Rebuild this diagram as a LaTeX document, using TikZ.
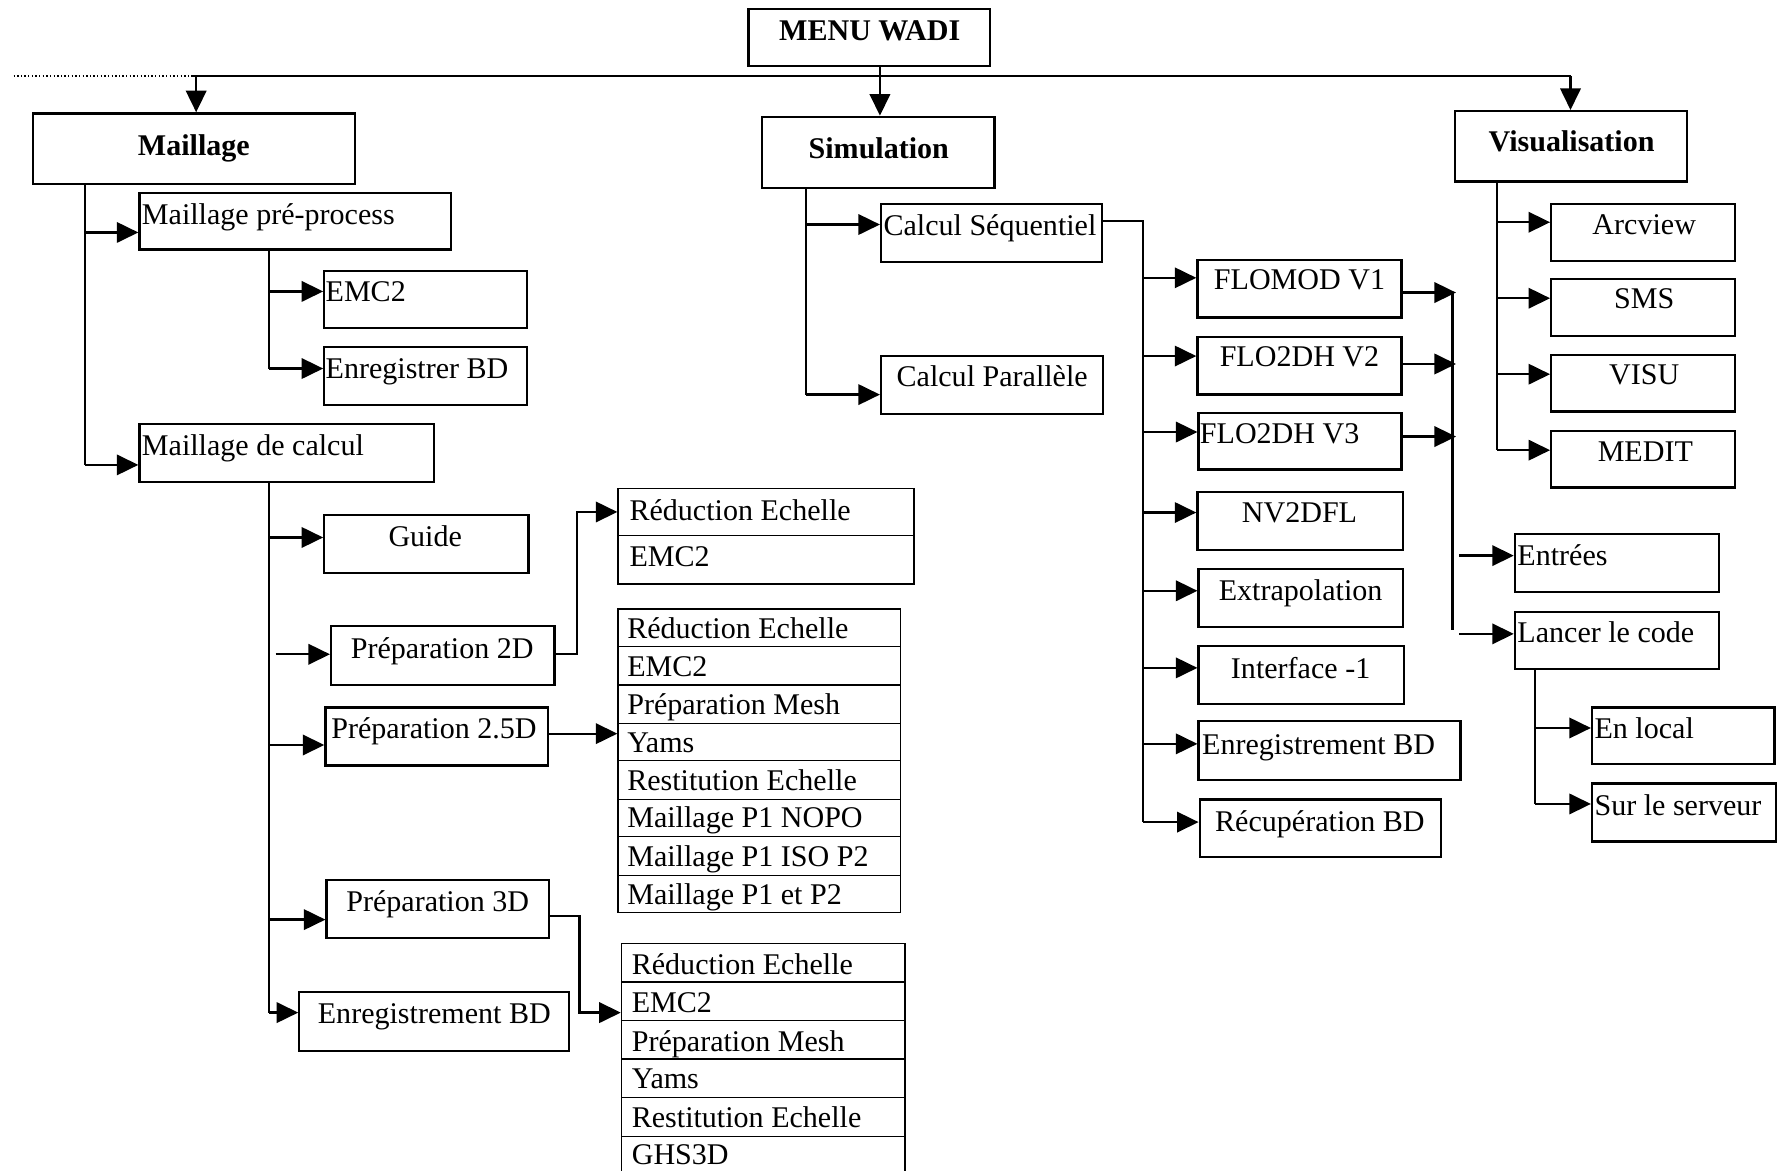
\documentclass[tikz,border=0pt]{standalone}
\usepackage{fontspec}
\setmainfont{Liberation Serif}
\usetikzlibrary{arrows.meta,fit}
\tikzset{
  bx/.style={draw, line width=2pt, inner sep=0pt, fit={#1}},
  cell/.style={draw, line width=1.1pt, inner sep=0pt, fit={#1}},
  tx/.style={font=\fontsize{26.5}{30}\selectfont, inner sep=0pt},
  bt/.style={font=\fontsize{26.5}{30}\selectfont\bfseries, inner sep=0pt},
  ln/.style={line width=2pt},
  arr/.style={line width=2pt, -{Triangle[length=19pt,width=18pt]}},
}
\newcommand\harr[3]{\coordinate (#1) at #2; \draw[arr] (#1) -- (#1 -| #3.west);}
\begin{document}
\begin{tikzpicture}[x=1pt,y=-1pt]
\useasboundingbox (0,0) rectangle (1568,1032);
% boxes
\node[bx={(660,8) (873,58)}] (menu) {};
\node[bx={(29,100) (313,162)}] (mail) {};
\node[bx={(672,103) (877,166)}] (sim) {};
\node[bx={(1283,98) (1488,160)}] (vis) {};
\node[bx={(123,170) (398,220)}] (mpp) {};
\node[bx={(286,239) (465,289)}] (memc) {};
\node[bx={(286,306) (465,357)}] (menr) {};
\node[bx={(123,374) (383,425)}] (mdc) {};
\node[bx={(286,454) (466,505)}] (guide) {};
\node[bx={(292,552) (489,604)}] (p2d) {};
\node[bx={(287,624) (483,675)}] (p25) {};
\node[bx={(288,776) (484,827)}] (p3d) {};
\node[bx={(264,875) (502,927)}] (penr) {};
\node[bx={(777,180) (972,231)}] (cseq) {};
\node[bx={(777,314) (973,365)}] (cpar) {};
\node[bx={(1056,229) (1236,280)}] (flo1) {};
\node[bx={(1056,297) (1236,348)}] (flo2) {};
\node[bx={(1057,364) (1236,414)}] (flo3) {};
\node[bx={(1056,434) (1237,485)}] (nv) {};
\node[bx={(1057,502) (1237,553)}] (extr) {};
\node[bx={(1057,570) (1238,621)}] (intf) {};
\node[bx={(1057,636) (1288,688)}] (senr) {};
\node[bx={(1058,705) (1271,756)}] (recup) {};
\node[bx={(1336,471) (1516,522)}] (entr) {};
\node[bx={(1336,540) (1516,590)}] (lanc) {};
\node[bx={(1404,624) (1565,674)}] (loc) {};
\node[bx={(1404,691) (1566,742)}] (serv) {};
\node[bx={(1368,180) (1530,230)}] (arc) {};
\node[bx={(1368,246) (1530,296)}] (sms) {};
\node[bx={(1368,313) (1530,363)}] (visu) {};
\node[bx={(1368,380) (1530,430)}] (medit) {};
% texts
\node[bt,anchor=base] (tmenu) at (767,36) {MENU WADI};
\node[bt,anchor=base] (tmail) at (171,137) {Maillage};
\node[bt,anchor=base] (tsim) at (775,140) {Simulation};
\node[bt,anchor=base] (tvis) at (1386,134) {Visualisation};
\node[tx,anchor=base west] (tmpp) at (125,198) {Maillage pré-process};
\node[tx,anchor=base west] (tmemc) at (287,266) {EMC2};
\node[tx,anchor=base west] (tmenr) at (287,334) {Enregistrer BD};
\node[tx,anchor=base west] (tmdc) at (125,402) {Maillage de calcul};
\node[tx,anchor=base] (tguide) at (375,482) {Guide};
\node[tx,anchor=base] (tp2d) at (390,581) {Préparation 2D};
\node[tx,anchor=base west] (tp25) at (292,651) {Préparation 2.5D};
\node[tx,anchor=base] (tp3d) at (386,804) {Préparation 3D};
\node[tx,anchor=base] (tpenr) at (383,903) {Enregistrement BD};
\node[tx,anchor=base west] (tcseq) at (779,208) {Calcul Séquentiel};
\node[tx,anchor=base] (tcpar) at (875,341) {Calcul Parallèle};
\node[tx,anchor=base] (tflo1) at (1146,255) {FLOMOD V1};
\node[tx,anchor=base] (tflo2) at (1146,323) {FLO2DH V2};
\node[tx,anchor=base west] (tflo3) at (1058,391) {FLO2DH V3};
\node[tx,anchor=base] (tnv) at (1146,461) {NV2DFL};
\node[tx,anchor=base] (textr) at (1147,530) {Extrapolation};
\node[tx,anchor=base] (tintf) at (1147,598) {Interface -1};
\node[tx,anchor=base west] (tsenr) at (1060,665) {Enregistrement BD};
\node[tx,anchor=base] (trecup) at (1164,733) {Récupération BD};
\node[tx,anchor=base west] (tentr) at (1338,499) {Entrées};
\node[tx,anchor=base west] (tlanc) at (1338,567) {Lancer le code};
\node[tx,anchor=base west] (tloc) at (1406,651) {En local};
\node[tx,anchor=base west] (tserv) at (1406,719) {Sur le serveur};
\node[tx,anchor=base] (tarc) at (1450,207) {Arcview};
\node[tx,anchor=base] (tsms) at (1450,272) {SMS};
\node[tx,anchor=base] (tvisu) at (1450,339) {VISU};
\node[tx,anchor=base] (tmedit) at (1451,407) {MEDIT};
% list 1
\node[cell={(545,431) (806,472)}] (L1a) {};
\node[cell={(545,472) (806,515)}] (L1b) {};
\node[tx,anchor=base west] (t1a) at (555,459) {Réduction Echelle};
\node[tx,anchor=base west] (t1b) at (555,500) {EMC2};
% list 2
\node[cell={(545,537) (794,570)}] (L2a) {};
\node[cell={(545,570) (794,604)}] (L2b) {};
\node[cell={(545,604) (794,638)}] (L2c) {};
\node[cell={(545,638) (794,671)}] (L2d) {};
\node[cell={(545,671) (794,705)}] (L2e) {};
\node[cell={(545,705) (794,738)}] (L2f) {};
\node[cell={(545,738) (794,772)}] (L2g) {};
\node[cell={(545,772) (794,805)}] (L2h) {};
\node[tx,anchor=base west] (t2a) at (553,563) {Réduction Echelle};
\node[tx,anchor=base west] (t2b) at (553,597) {EMC2};
\node[tx,anchor=base west] (t2c) at (553,630) {Préparation Mesh};
\node[tx,anchor=base west] (t2d) at (553,664) {Yams};
\node[tx,anchor=base west] (t2e) at (553,697) {Restitution Echelle};
\node[tx,anchor=base west] (t2f) at (553,730) {Maillage P1 NOPO};
\node[tx,anchor=base west] (t2g) at (553,764) {Maillage P1 ISO P2};
\node[tx,anchor=base west] (t2h) at (553,798) {Maillage P1 et P2};
% list 3
\node[cell={(548,832) (798,866)}] (L3a) {};
\node[cell={(548,866) (798,900)}] (L3b) {};
\node[cell={(548,900) (798,934)}] (L3c) {};
\node[cell={(548,934) (798,968)}] (L3d) {};
\node[cell={(548,968) (798,1002)}] (L3e) {};
\node[cell={(548,1002) (798,1045)}] (L3f) {};
\node[tx,anchor=base west] (t3a) at (557,859) {Réduction Echelle};
\node[tx,anchor=base west] (t3b) at (557,893) {EMC2};
\node[tx,anchor=base west] (t3c) at (557,927) {Préparation Mesh};
\node[tx,anchor=base west] (t3d) at (557,960) {Yams};
\node[tx,anchor=base west] (t3e) at (557,994) {Restitution Echelle};
\node[tx,anchor=base west] (t3f) at (557,1027) {GHS3D};
% top connectors
\coordinate (h0) at (12,67);
\coordinate (h1) at (170,67);
\coordinate (h2) at (1385,67);
\coordinate (hm) at (173,67);
\coordinate (hs) at (776,58);
\draw[dotted, line width=1.2pt] (h0) -- (h1);
\draw[ln] (h1) -- (h2);
\draw[arr] (hm) -- (hm |- mail.north);
\draw[arr] (hs) -- (hs |- sim.north);
\draw[arr] (h2) -- (h2 |- vis.north);
% Maillage subtree
\harr{c1}{(75,205)}{mpp}
\harr{c2}{(75,410)}{mdc}
\draw[ln] (c1 |- mail.south) -- (c2);
\harr{c3}{(237,257)}{memc}
\harr{c4}{(237,325)}{menr}
\draw[ln] (c3 |- mpp.south) -- (c4);
\harr{c5}{(237,474)}{guide}
\harr{c6}{(243,577)}{p2d}
\harr{c7}{(237,657)}{p25}
\harr{c8}{(237,811)}{p3d}
\harr{c9}{(237,893)}{penr}
\draw[ln] (c5 |- mdc.south) -- (c9);
\coordinate (k1) at (509,577);
\draw[arr] (k1 -| p2d.east) -- (k1) |- (L1a.west);
\coordinate (k2) at (545,647);
\draw[arr] (k2 -| p25.east) -- (k2 -| L2d.west);
\coordinate (k3) at (511,808);
\coordinate (k4) at (511,893);
\draw[arr] (k3 -| p3d.east) -- (k3) -- (k4) -- (k4 -| L3b.west);
% Simulation subtree
\harr{s1}{(711,198)}{cseq}
\harr{s2}{(711,348)}{cpar}
\draw[ln] (s1 |- sim.south) -- (s2);
\coordinate (q0) at (1008,195);
\harr{f1}{(1008,245)}{flo1}
\harr{f2}{(1008,314)}{flo2}
\harr{f3}{(1008,381)}{flo3}
\harr{f4}{(1008,452)}{nv}
\harr{f5}{(1008,521)}{extr}
\harr{f6}{(1008,589)}{intf}
\harr{f7}{(1008,656)}{senr}
\harr{f8}{(1008,725)}{recup}
\draw[ln] (q0 -| cseq.east) -- (q0) -- (f8);
\coordinate (r1) at (1284,258);
\coordinate (r2) at (1284,321);
\coordinate (r3) at (1284,385);
\draw[arr] (r1 -| flo1.east) -- (r1);
\draw[arr] (r2 -| flo2.east) -- (r2);
\draw[arr] (r3 -| flo3.east) -- (r3);
\coordinate (u1) at (1281,258);
\coordinate (u2) at (1281,556);
\draw[ln] (u1) -- (u2);
\harr{e1}{(1287,490)}{entr}
\harr{e2}{(1287,559)}{lanc}
\harr{l1}{(1354,642)}{loc}
\harr{l2}{(1354,709)}{serv}
\draw[ln] (l1 |- lanc.south) -- (l2);
% Visualisation subtree
\harr{w1}{(1320,196)}{arc}
\harr{w2}{(1320,263)}{sms}
\harr{w3}{(1320,330)}{visu}
\harr{w4}{(1320,397)}{medit}
\draw[ln] (w1 |- vis.south) -- (w4);
\end{tikzpicture}
\end{document}
